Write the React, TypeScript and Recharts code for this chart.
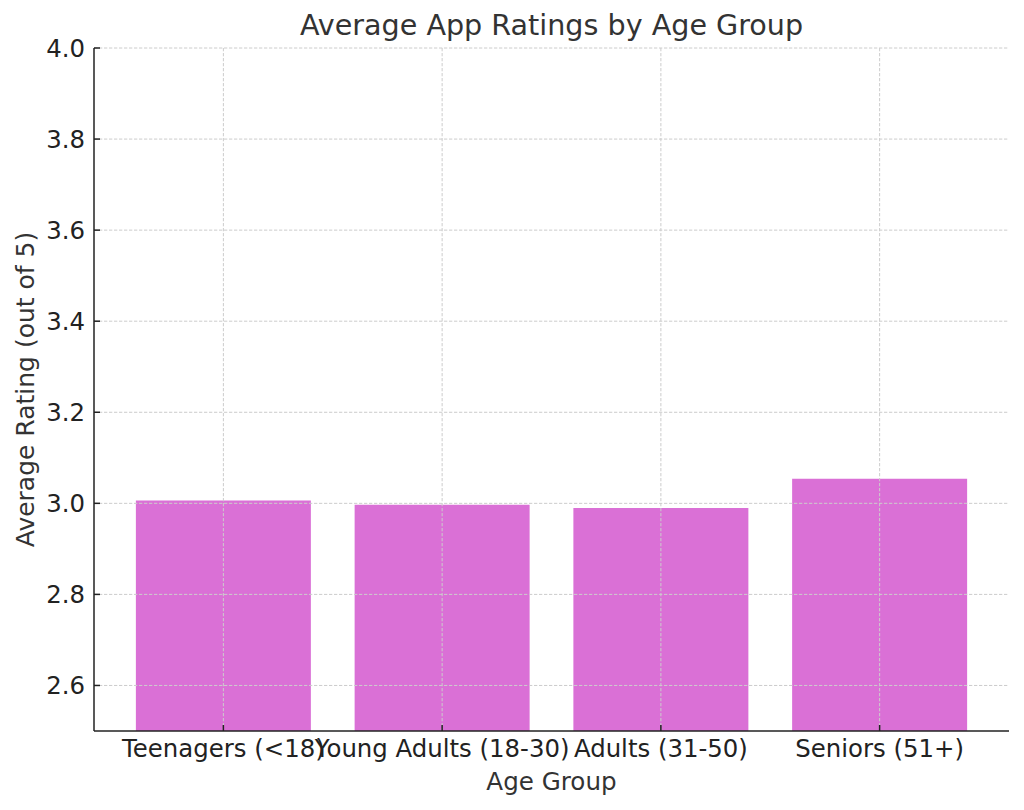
import React from "react";
import { BarChart, Bar, XAxis, YAxis, CartesianGrid, Label } from "recharts";

const ageGroups = ["Teenagers (<18)", "Young Adults (18-30)", "Adults (31-50)", "Seniors (51+)"];
const avgRatings = [3.006, 2.997, 2.99, 3.054];
const yTicks = [2.6, 2.8, 3.0, 3.2, 3.4, 3.6, 3.8, 4.0];

const data = ageGroups.map((group, i) => ({ group, rating: avgRatings[i] }));

const FONT = "'DejaVu Sans', sans-serif";
const AXIS = "#222222";
const TICK_FONT = 24.4;

// matplotlib-style inward tick marks
function YTick(props: any) {
  const { x, y, payload } = props;
  const axisX = x + 9;
  return (
    <g>
      <line x1={axisX} y1={y} x2={axisX + 6} y2={y} stroke={AXIS} strokeWidth={1.5} />
      <text x={x} y={y} dy="0.35em" textAnchor="end" fill={AXIS} fontSize={TICK_FONT} fontFamily={FONT}>
        {Number(payload.value).toFixed(1)}
      </text>
    </g>
  );
}

function XTick(props: any) {
  const { x, y, payload } = props;
  const axisY = y - 9;
  return (
    <g>
      <line x1={x} y1={axisY} x2={x} y2={axisY - 6} stroke={AXIS} strokeWidth={1.5} />
      <text x={x} y={y} dy="0.71em" textAnchor="middle" fill={AXIS} fontSize={TICK_FONT} fontFamily={FONT}>
        {payload.value}
      </text>
    </g>
  );
}

export default function App() {
  return (
    <div style={{ position: "absolute", left: 0, top: 0, width: 1024, height: 810, background: "#fff" }}>
      <div
        style={{
          position: "absolute",
          left: 94,
          width: 915,
          top: 7,
          textAlign: "center",
          fontFamily: FONT,
          fontSize: 28.6,
          color: "#333333",
          lineHeight: "36px",
        }}
      >
        Average App Ratings by Age Group
      </div>
      <BarChart
        width={1024}
        height={810}
        data={data}
        margin={{ top: 48, right: 15, bottom: 0, left: 0 }}
        barCategoryGap="10%"
      >
        <XAxis
          dataKey="group"
          interval={0}
          padding={{ left: 20, right: 20 }}
          height={79}
          tickSize={0}
          tickMargin={9}
          tick={<XTick />}
          tickLine={false}
          axisLine={{ stroke: AXIS, strokeWidth: 1.5 }}
          zIndex={700}
        >
          <Label
            value="Age Group"
            position="insideBottom"
            offset={20}
            fill="#333333"
            fontSize={24.6}
            fontFamily={FONT}
          />
        </XAxis>
        <YAxis
          type="number"
          domain={[2.5, 4.0]}
          ticks={yTicks}
          allowDataOverflow
          width={94}
          tickSize={0}
          tickMargin={9}
          tick={<YTick />}
          tickLine={false}
          axisLine={{ stroke: AXIS, strokeWidth: 1.5 }}
          zIndex={700}
        >
          <Label
            value="Average Rating (out of 5)"
            angle={-90}
            position="center"
            dx={-22}
            fill="#333333"
            fontSize={25}
            fontFamily={FONT}
          />
        </YAxis>
        <Bar dataKey="rating" fill="#DA70D6" isAnimationActive={false} />
        <CartesianGrid
          stroke="#cccccc"
          strokeDasharray="3.3 1.7"
          strokeWidth={1}
          zIndex={600}
          syncWithTicks
        />
      </BarChart>
    </div>
  );
}
